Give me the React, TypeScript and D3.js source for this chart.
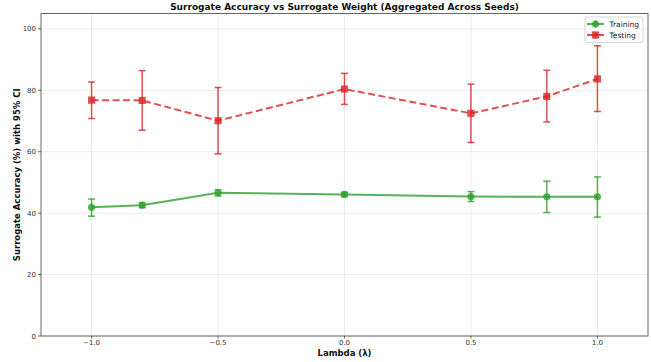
import React from "react";
import * as d3 from "d3";

const lambdas = [-1.0, -0.8, -0.5, 0.0, 0.5, 0.8, 1.0];
const trainMean = [41.9, 42.6, 46.6, 46.1, 45.4, 45.3, 45.3];
const trainLow = [39.0, 41.8, 45.6, 45.4, 43.8, 40.2, 38.7];
const trainHigh = [44.6, 43.4, 47.6, 46.8, 47.0, 50.4, 51.8];
const testMean = [76.8, 76.7, 70.1, 80.4, 72.5, 78.0, 83.7];
const testLow = [70.8, 67.0, 59.3, 75.4, 63.0, 69.7, 73.1];
const testHigh = [82.7, 86.4, 80.9, 85.5, 82.0, 86.5, 94.5];
const xTicks = [-1.0, -0.5, 0.0, 0.5, 1.0];
const yTicks = [0, 20, 40, 60, 80, 100];

const W = 651, H = 362;
const M = { left: 41, right: 3, top: 13.5, bottom: 26 };

export default function App() {
  const x = d3.scaleLinear().domain([-1.2, 1.2]).range([M.left, W - M.right]);
  const y = d3.scaleLinear().domain([0, 105]).range([H - M.bottom, M.top]);
  const line = d3.line<number>().x((_, i) => x(lambdas[i])).y((d) => y(d));
  const green = "#2ca02c";
  const red = "#d62728";
  const fmtX = (v: number) => (v < 0 ? "\u2212" : "") + Math.abs(v).toFixed(1);
  const font = "DejaVu Sans, sans-serif";

  const errBars = (lo: number[], hi: number[], color: string, key: string) =>
    lambdas.map((l, i) => (
      <g key={key + i} stroke={color} strokeOpacity={0.8} strokeWidth={1.5}>
        <line x1={x(l)} x2={x(l)} y1={y(lo[i])} y2={y(hi[i])} />
        <line x1={x(l) - 3.5} x2={x(l) + 3.5} y1={y(lo[i])} y2={y(lo[i])} />
        <line x1={x(l) - 3.5} x2={x(l) + 3.5} y1={y(hi[i])} y2={y(hi[i])} />
      </g>
    ));

  return (
    <svg width={W} height={H} style={{ position: "absolute", left: 0, top: 0 }} fontFamily={font}>
      <rect width={W} height={H} fill="#fff" />
      {xTicks.map((t) => (
        <line key={"gx" + t} x1={x(t)} x2={x(t)} y1={M.top} y2={H - M.bottom} stroke="#b0b0b0" strokeOpacity={0.3} strokeWidth={0.8} />
      ))}
      {yTicks.map((t) => (
        <line key={"gy" + t} x1={M.left} x2={W - M.right} y1={y(t)} y2={y(t)} stroke="#b0b0b0" strokeOpacity={0.3} strokeWidth={0.8} />
      ))}
      <path d={line(trainMean) || ""} fill="none" stroke={green} strokeOpacity={0.8} strokeWidth={2} />
      {errBars(trainLow, trainHigh, green, "tr")}
      {lambdas.map((l, i) => (
        <circle key={"tc" + i} cx={x(l)} cy={y(trainMean[i])} r={3.6} fill={green} fillOpacity={0.8} />
      ))}
      <path d={line(testMean) || ""} fill="none" stroke={red} strokeOpacity={0.8} strokeWidth={2} strokeDasharray="7,3.5" />
      {errBars(testLow, testHigh, red, "te")}
      {lambdas.map((l, i) => (
        <rect key={"ts" + i} x={x(l) - 3.6} y={y(testMean[i]) - 3.6} width={7.2} height={7.2} fill={red} fillOpacity={0.8} />
      ))}
      <rect x={M.left} y={M.top} width={W - M.right - M.left} height={H - M.bottom - M.top} fill="none" stroke="#666" strokeWidth={1} />
      {xTicks.map((t) => (
        <g key={"tx" + t}>
          <line x1={x(t)} x2={x(t)} y1={H - M.bottom} y2={H - M.bottom + 2.5} stroke="#444" strokeWidth={0.8} />
          <text x={x(t)} y={H - M.bottom + 9} textAnchor="middle" fontSize={7} fill="#333">{fmtX(t)}</text>
        </g>
      ))}
      {yTicks.map((t) => (
        <g key={"ty" + t}>
          <line x1={M.left - 3} x2={M.left} y1={y(t)} y2={y(t)} stroke="#444" strokeWidth={0.8} />
          <text x={M.left - 5} y={y(t) + 2.5} textAnchor="end" fontSize={7} fill="#333">{t}</text>
        </g>
      ))}
      <text x={(M.left + W - M.right) / 2} y={10} textAnchor="middle" fontSize={9} fontWeight="bold" fill="#111">
        Surrogate Accuracy vs Surrogate Weight (Aggregated Across Seeds)
      </text>
      <text x={(M.left + W - M.right) / 2} y={355.5} textAnchor="middle" fontSize={8.5} fontWeight="bold" fill="#111">
        Lambda (λ)
      </text>
      <text transform={`translate(20,${(M.top + H - M.bottom) / 2}) rotate(-90)`} textAnchor="middle" fontSize={8.5} fontWeight="bold" fill="#111">
        Surrogate Accuracy (%) with 95% CI
      </text>
      <g>
        <rect x={585} y={17} width={58} height={25.5} rx={2} fill="#fff" fillOpacity={0.8} stroke="#ccc" strokeWidth={0.8} />
        <line x1={587} x2={604} y1={24} y2={24} stroke={green} strokeOpacity={0.8} strokeWidth={2} />
        <line x1={595.5} x2={595.5} y1={20.5} y2={27.5} stroke={green} strokeOpacity={0.8} strokeWidth={1.5} />
        <circle cx={595.5} cy={24} r={3.6} fill={green} fillOpacity={0.8} />
        <text x={609.5} y={27} fontSize={7.5} fill="#222">Training</text>
        <line x1={587} x2={604} y1={35} y2={35} stroke={red} strokeOpacity={0.8} strokeWidth={2} />
        <line x1={595.5} x2={595.5} y1={31.5} y2={38.5} stroke={red} strokeOpacity={0.8} strokeWidth={1.5} />
        <rect x={591.9} y={31.4} width={7.2} height={7.2} fill={red} fillOpacity={0.8} />
        <text x={609.5} y={38} fontSize={7.5} fill="#222">Testing</text>
      </g>
    </svg>
  );
}
